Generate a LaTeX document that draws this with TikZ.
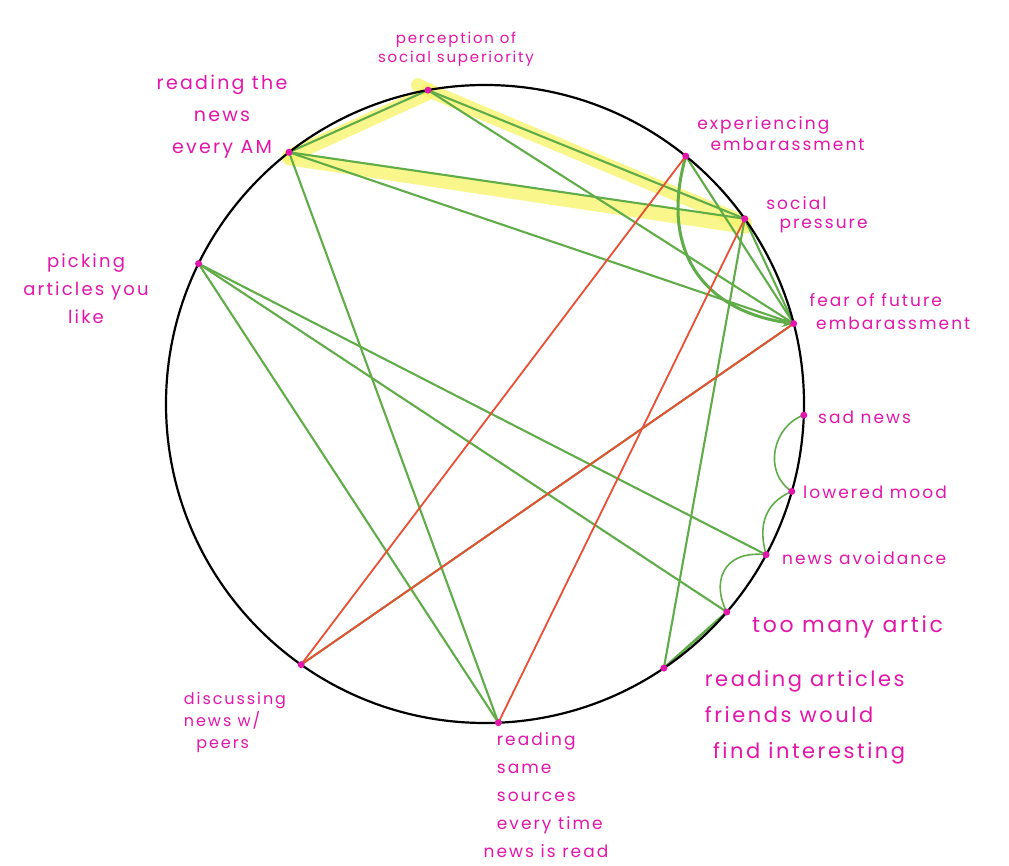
\documentclass[tikz,border=0pt]{standalone}
\usepackage{fontspec}
\usepackage{tikz}
\usetikzlibrary{arrows.meta, backgrounds}
\newfontfamily\handfont[LetterSpace=12]{Poppins}
\definecolor{pinkink}{RGB}{226,22,170}
\definecolor{greenink}{RGB}{96,172,72}
\definecolor{redink}{RGB}{234,78,52}
\definecolor{hilite}{RGB}{248,244,110}
\tikzset{
  rim/.style={draw=black, line width=2.2pt},
  pt/.style={circle, fill=pinkink, inner sep=0pt, minimum size=7pt},
  lbl/.style={text=pinkink, inner sep=0pt, align=left},
  link/.style={draw=greenink, line width=2.1pt},
  neg/.style={draw=redink, line width=1.8pt},
  glow/.style={draw=hilite, line width=14pt, line cap=round, opacity=0.8},
  arr/.style={-{Stealth[length=4mm, width=3.5mm]}, line width=3pt},
}

\begin{document}
\begin{tikzpicture}[x=1pt, y=1pt]
  \useasboundingbox (0,0) rectangle (1009,865);
  \coordinate (c) at (485,461);
  \draw[rim] (c) circle (319pt);

  % points on the rim
  \node[pt] (perc) at ([shift={(100.3:319pt)}]c) {};
  \node[pt] (news) at ([shift={(127.9:319pt)}]c) {};
  \node[pt] (pick) at ([shift={(153.9:319pt)}]c) {};
  \node[pt] (exp) at ([shift={(51.0:319pt)}]c) {};
  \node[pt] (social) at ([shift={(35.5:319pt)}]c) {};
  \node[pt] (fear) at ([shift={(14.6:319pt)}]c) {};
  \node[pt] (sad) at ([shift={(-2.0:319pt)}]c) {};
  \node[pt] (low) at ([shift={(-15.9:319pt)}]c) {};
  \node[pt] (avoid) at ([shift={(-28.2:319pt)}]c) {};
  \node[pt] (many) at ([shift={(-40.7:319pt)}]c) {};
  \node[pt] (friends) at ([shift={(-55.9:319pt)}]c) {};
  \node[pt] (same) at ([shift={(-87.6:319pt)}]c) {};
  \node[pt] (disc) at ([shift={(-125.2:319pt)}]c) {};

  % labels
  \node[lbl, align=center, font=\handfont\fontsize{15}{19}\selectfont] (perc-l) at (456,816) {perception of\\social superiority};
  \node[lbl, align=center, font=\handfont\fontsize{19}{32}\selectfont] (news-l) at (222,748) {reading the\\news\\every AM};
  \node[lbl, align=center, font=\handfont\fontsize{18}{28}\selectfont] (pick-l) at (86,576) {picking\\articles you\\like};
  \node[lbl, font=\handfont\fontsize{17}{21}\selectfont] (exp-l) at (781,731) {experiencing\\\ \ embarassment};
  \node[lbl, font=\handfont\fontsize{17}{19}\selectfont] (social-l) at (817,650) {social\\\ \ pressure};
  \node[lbl, font=\handfont\fontsize{17}{23}\selectfont] (fear-l) at (890,553) {fear of future\\\ embarassment};
  \node[lbl, anchor=west, font=\handfont\fontsize{17}{20}\selectfont] (sad-l) at (818,448) {sad news};
  \node[lbl, anchor=west, font=\handfont\fontsize{17}{20}\selectfont] (low-l) at (803,373) {lowered mood};
  \node[lbl, anchor=west, font=\handfont\fontsize{17}{20}\selectfont] (avoid-l) at (782,307) {news avoidance};
  \node[lbl, anchor=west, font=\handfont\fontsize{22}{26}\selectfont] (many-l) at (752,238) {too many artic};
  \node[lbl, font=\handfont\fontsize{21}{36}\selectfont] (friends-l) at (805,148) {reading articles\\friends would\\\ find interesting};
  \node[lbl, font=\handfont\fontsize{17}{28}\selectfont] (same-l) at (546,70) {\ \ reading\\\ \ same\\\ \ sources\\\ \ every time\\news is read};
  \node[lbl, font=\handfont\fontsize{16}{22}\selectfont] (disc-l) at (235,143) {discussing\\news w/\\\ \ peers};

  \begin{scope}[on background layer]
    % highlighted path
    \draw[glow] ([shift={(-10,5)}]perc.center) -- (perc.center);
    \draw[glow] ([yshift=-4pt]news.center) -- ([yshift=-3pt]perc.center);
    \draw[glow] ([yshift=-6pt]news.center) -- ([yshift=-8pt]social.center);
    \draw[glow] (perc.center) -- ([yshift=-4pt]social.center);

    % green links
    \draw[link] (news.center) -- (perc.center);
    \draw[link] (news.center) -- (social.center);
    \draw[link] (perc.center) -- (social.center);
    \draw[link] (perc.center) -- (fear.center);
    \draw[link] (news.center) -- (fear.center);
    \draw[link] (news.center) -- (same.center);
    \draw[link] (exp.center) -- (fear.center);
    \draw[link] (social.center) -- (fear.center);
    \draw[link] (social.center) -- (friends.center);
    \draw[link] (pick.center) -- (same.center);
    \draw[link] (pick.center) -- (avoid.center);
    \draw[link] (pick.center) -- (many.center);
    \draw[link] (fear.center) -- (disc.center);
    \draw[link, arr] (exp.center) .. controls +(-28,-100) and +(-85,12) .. (fear.center);

    % chain down the right side
    \draw[link, line width=1.6pt] (sad.center) .. controls +(-30,-10) and +(-30,20) .. (low.center);
    \draw[link, line width=1.6pt] (low.center) .. controls +(-28,-12) and +(-8,28) .. (avoid.center);
    \draw[link, line width=1.6pt] (avoid.center) .. controls +(-45,5) and +(-15,28) .. (many.center);
    \draw[link, line width=2.6pt] (many.center) -- (friends.center);

    % red links
    \draw[neg] (exp.center) -- (disc.center);
    \draw[neg] (social.center) -- (same.center);
    \draw[neg] (fear.center) -- (disc.center);
  \end{scope}
\end{tikzpicture}
\end{document}
